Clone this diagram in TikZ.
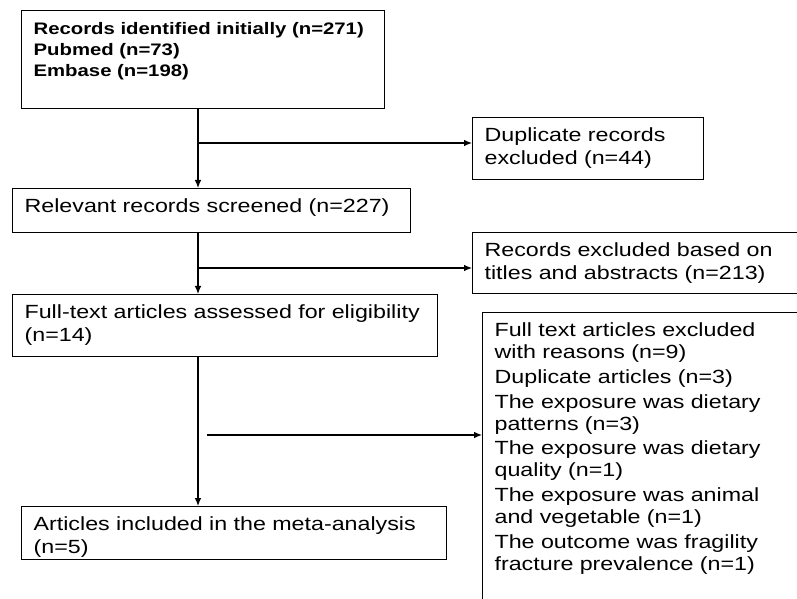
\documentclass[tikz,border=0pt]{standalone}
\usepackage{fontspec}
\setmainfont{Liberation Sans}[FakeStretch=1.22]
\usetikzlibrary{arrows.meta}

\begin{document}
\begin{tikzpicture}[x=0.75pt,y=-0.75pt,line width=0.9pt]
	\tikzstyle{every node}=[draw,anchor=north west,align=left,inner xsep=9pt,inner ysep=8.25pt,text height=10pt,font=\fontsize{14.3}{17}\selectfont]
	\tikzstyle{flow}=[-{Latex[length=6pt,width=5pt]}]

	\useasboundingbox (0,0) rectangle (797,599);
	\clip (0,0) rectangle (797,599);

	% left column
	\node[text width=254.25pt,text depth=47pt,font=\fontsize{12.5}{15.75}\bfseries] (initial) at (21,10)
		{Records identified initially (n=271)\\Pubmed (n=73)\\Embase (n=198)};
	\node[text width=280.5pt,text depth=6.5pt] (screened) at (12,188)
		{Relevant records screened (n=227)};
	\node[text width=300.75pt,text depth=20pt] (fulltext) at (12,294)
		{Full-text articles assessed for eligibility\\(n=14)};
	\node[text width=300.75pt,text depth=13.25pt] (included) at (21,506)
		{Articles included in the meta-analysis\\(n=5)};

	% right column, exclusions
	\node[text width=155.25pt,text depth=20pt] (dup) at (472,117)
		{Duplicate records\\excluded (n=44)};
	\node[text width=237pt,text depth=19.25pt] (titles) at (472,232)
		{Records excluded based on\\titles and abstracts (n=213)};
	\node[text width=237pt,text depth=213.5pt,font=\fontsize{14.3}{16.5}\selectfont] (reasons) at (482,312)
		{Full text articles excluded\\with reasons (n=9)\\[2pt]
		Duplicate articles (n=3)\\[2pt]
		The exposure was dietary\\patterns (n=3)\\[2pt]
		The exposure was dietary\\quality (n=1)\\[2pt]
		The exposure was animal\\and vegetable (n=1)\\[2pt]
		The outcome was fragility\\fracture prevalence (n=1)};

	% branch points on the spine
	\coordinate (j1) at (198,143);
	\coordinate (j2) at (198,268);
	\coordinate (j3) at (207,435);

	\draw[flow] (initial.south -| j1) -- (screened.north -| j1);
	\draw[flow] (screened.south -| j1) -- (fulltext.north -| j1);
	\draw[flow] (fulltext.south -| j1) -- (included.north -| j1);
	\draw[flow] (j1) -- (j1 -| dup.west);
	\draw[flow] (j2) -- (j2 -| titles.west);
	\draw[flow] (j3) -- (j3 -| reasons.west);
\end{tikzpicture}
\end{document}
